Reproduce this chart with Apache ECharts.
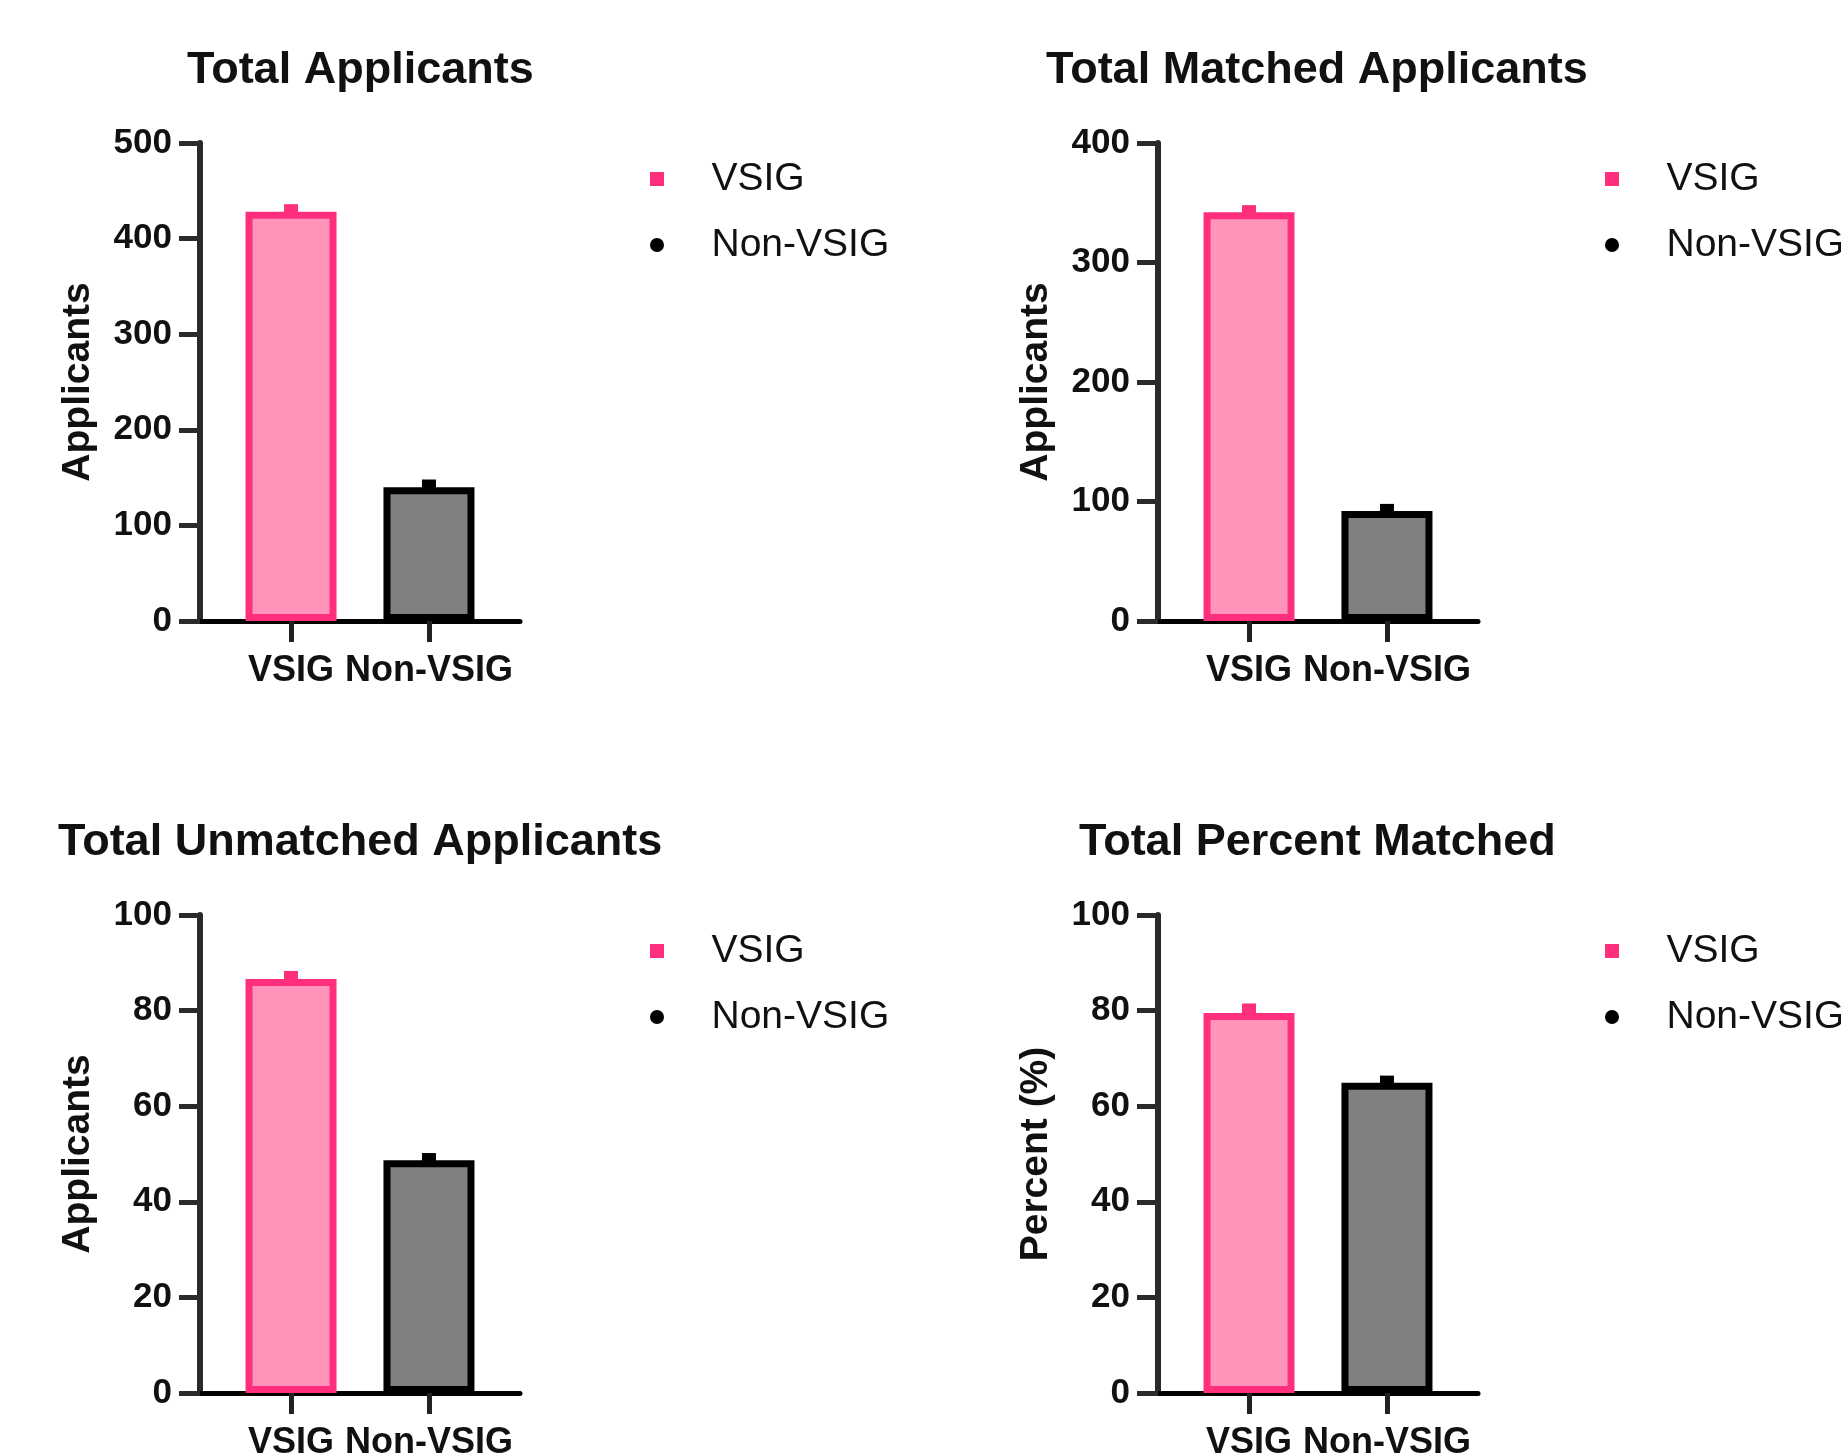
<!DOCTYPE html>
<html>
<head>
<meta charset="utf-8">
<script src="https://cdn.jsdelivr.net/npm/echarts@6/dist/echarts.min.js"></script>
<style>
html,body{margin:0;padding:0;background:#fff;}
#chart{width:1841px;height:1453px;}
</style>
</head>
<body>
<div id="chart"></div>
<script>
// ---- data ----
const categories = ['VSIG', 'Non-VSIG'];
const categoryX = [1, 2];
const panelTitles = ['Total Applicants', 'Total Matched Applicants', 'Total Unmatched Applicants', 'Total Percent Matched'];
const yAxisNames = ['Applicants', 'Applicants', 'Applicants', 'Percent (%)'];
const yMax = [500, 400, 100, 100];
const yInterval = [100, 100, 20, 20];
const totalMeans = [428, 140];
const totalErr = [8, 8];
const matchedMeans = [342, 92];
const matchedErr = [6, 6];
const unmatchedMeans = [86.6, 48.7];
const unmatchedErr = [1.7, 1.5];
const percentMeans = [79.5, 64.9];
const percentErr = [2, 1.5];
const panelMeans = [totalMeans, matchedMeans, unmatchedMeans, percentMeans];
const panelErrs = [totalErr, matchedErr, unmatchedErr, percentErr];

// ---- styles ----
const FONT = "'Liberation Sans', Arial, sans-serif";
const PINK_FILL = '#ff93b9';
const PINK_LINE = '#ff2f7e';
const GREY_FILL = '#808080';
const BLACK = '#000000';
const TEXT = '#111111';

const panelLeft = [200, 1158, 200, 1158];
const panelTop = [143, 143, 915, 915];
const titleCenterX = [360, 1317, 360, 1317];
const titleTop = [48, 48, 820, 820];
const legendLeft = [645, 1600, 645, 1600];
const legendTop = [154, 154, 926, 926];

const measureCtx = document.createElement('canvas').getContext('2d');
function textWidth(str, font) { measureCtx.font = font; return measureCtx.measureText(str).width; }

const chart = echarts.init(document.getElementById('chart'));

const grids = [], xAxes = [], yAxes = [], series = [], titles = [], legends = [];

for (let p = 0; p < 4; p++) {
  grids.push({left: panelLeft[p], top: panelTop[p], width: 320, height: 478, containLabel: false, outerBoundsMode: 'none'});
  const tw = textWidth(panelTitles[p], "bold 45px 'Liberation Sans', Arial, sans-serif");
  titles.push({
    text: panelTitles[p], left: Math.round(titleCenterX[p] - tw / 2), top: titleTop[p], padding: 0,
    textStyle: {fontFamily: FONT, fontSize: 45, fontWeight: 'bold', color: TEXT}
  });
  xAxes.push({
    gridIndex: p, type: 'value', min: 0.34, max: 2.66,
    splitLine: {show: false},
    axisLine: {show: true, onZero: false, lineStyle: {color: BLACK, width: 5}},
    axisTick: {show: true, customValues: categoryX, length: 21, lineStyle: {color: '#222', width: 5}},
    axisLabel: {
      show: true, customValues: categoryX, margin: 32,
      formatter: v => categories[Math.round(v) - 1],
      fontFamily: FONT, fontSize: 36, fontWeight: 'bold', color: TEXT
    }
  });
  yAxes.push({
    gridIndex: p, type: 'value', min: 0, max: yMax[p], interval: yInterval[p],
    name: yAxisNames[p], nameLocation: 'middle', nameGap: 102,
    nameTextStyle: {fontFamily: FONT, fontSize: 39, fontWeight: 'bold', color: TEXT},
    splitLine: {show: false},
    axisLine: {show: true, lineStyle: {color: '#2a2a2a', width: 6}},
    axisTick: {show: true, length: 21, lineStyle: {color: '#2a2a2a', width: 5}},
    axisLabel: {margin: 28, fontFamily: FONT, fontSize: 35, fontWeight: 'bold', color: TEXT}
  });

  const means = panelMeans[p], errs = panelErrs[p];
  const fills = [PINK_FILL, GREY_FILL], lines = [PINK_LINE, BLACK];
  for (let c = 0; c < 2; c++) {
    series.push({
      name: categories[c], type: 'bar', xAxisIndex: p, yAxisIndex: p,
      barWidth: 91, barGap: '-100%',
      data: [[categoryX[c], means[c]]],
      itemStyle: {color: fills[c], borderColor: lines[c], borderWidth: 7},
      emphasis: {disabled: true}, silent: true, z: 2
    });
    series.push({
      name: categories[c], type: 'custom', xAxisIndex: p, yAxisIndex: p,
      data: [[categoryX[c], means[c], errs[c]]],
      encode: {x: 0, y: 1},
      renderItem: (params, api) => {
        const x = api.value(0), v = api.value(1), e = api.value(2);
        const p0 = api.coord([x, v]);
        const p1 = api.coord([x, v + e]);
        return {
          type: 'rect',
          shape: {x: p0[0] - 7, y: p1[1], width: 14, height: p0[1] - p1[1] + 4},
          style: {fill: lines[c]}
        };
      },
      silent: true, z: 3
    });
  }

  legends.push({
    orient: 'vertical', left: legendLeft[p], top: legendTop[p],
    itemWidth: 99, itemHeight: 14, itemGap: 26, symbolKeepAspect: true,
    selectedMode: false,
    textStyle: {fontFamily: FONT, fontSize: 39, lineHeight: 40, color: TEXT},
    data: [
      {name: 'VSIG', icon: 'path://M0,0L10,0L10,10L0,10Z', itemStyle: {color: PINK_LINE, borderWidth: 0}},
      {name: 'Non-VSIG', icon: 'path://M5,0A5,5,0,1,1,5,10A5,5,0,1,1,5,0Z', itemStyle: {color: BLACK, borderWidth: 0}}
    ]
  });
}

chart.setOption({
  backgroundColor: '#ffffff',
  animation: false,
  title: titles,
  legend: legends,
  grid: grids,
  xAxis: xAxes,
  yAxis: yAxes,
  series: series
});
</script>
</body>
</html>
